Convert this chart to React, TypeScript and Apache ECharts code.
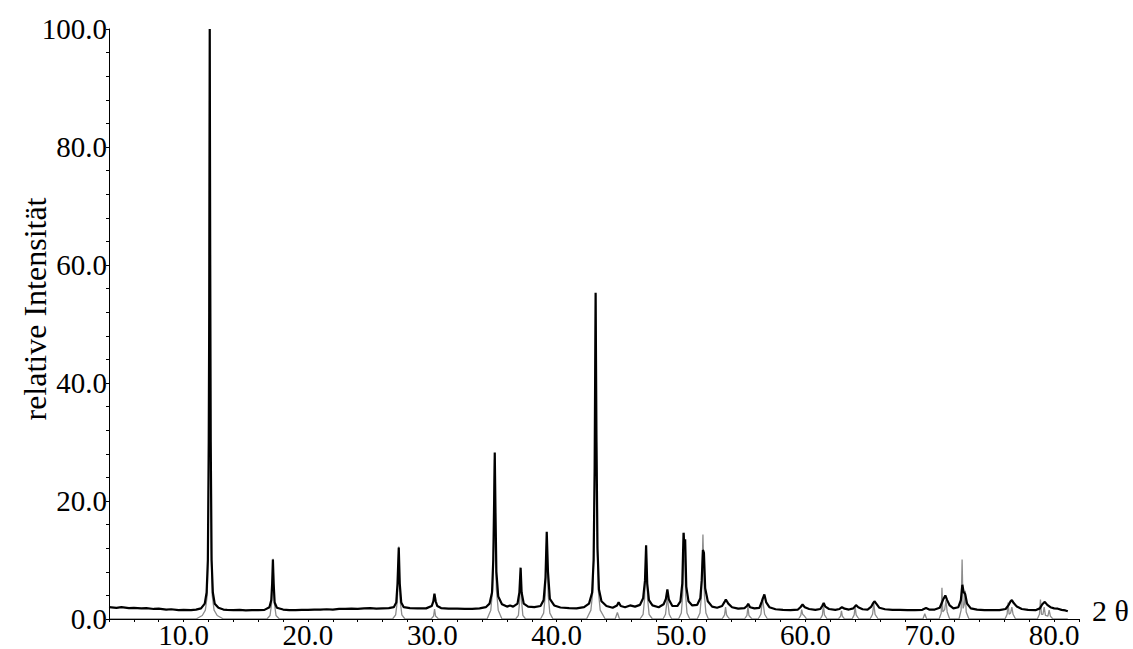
import { useEffect, useRef } from "react";
import * as echarts from "echarts";

// Axis ranges and tick spacing (2θ in degrees, intensity in %)
const X_MIN = 4;
const X_MAX = 82;
const X_STEP = 2;
const X_LABEL_EVERY = 10;
const Y_MIN = 0;
const Y_MAX = 100;
const Y_STEP = 4;
const Y_LABEL_EVERY = 20;

const xAxisTitle = "2 θ";
const yAxisTitle = "relative Intensität";

// Measured powder pattern: [2θ, relative intensity]
const measured: [number, number][] = [
  [4.0, 2.0], [4.6, 1.9], [5.0, 2.0], [5.6, 1.85], [6.0, 1.9], [6.6, 1.8], [7.0, 1.85],
  [7.6, 1.7], [8.0, 1.75], [8.6, 1.6], [9.0, 1.65], [9.6, 1.5], [10.0, 1.55], [10.6, 1.5],
  [11.0, 1.6], [11.4, 1.8], [11.7, 2.6], [11.85, 4.5], [11.95, 10], [12.02, 30], [12.06, 52],
  [12.1, 100], [12.14, 60], [12.18, 30], [12.25, 10], [12.35, 4.5], [12.5, 2.6], [12.8, 1.9],
  [13.2, 1.6], [13.5, 1.55], [14.0, 1.5], [14.5, 1.55], [15.0, 1.45], [15.5, 1.5], [16.0, 1.5],
  [16.5, 1.55], [16.9, 2.0], [17.05, 3.2], [17.12, 6], [17.18, 10.1], [17.24, 6], [17.32, 2.8],
  [17.5, 1.9], [18.0, 1.6], [18.5, 1.5], [19.0, 1.5], [19.5, 1.55], [20.0, 1.55], [20.5, 1.6],
  [21.0, 1.6], [21.5, 1.65], [22.0, 1.6], [22.5, 1.7], [23.0, 1.7], [23.5, 1.75], [24.0, 1.7],
  [24.5, 1.8], [25.0, 1.85], [25.5, 1.75], [26.0, 1.8], [26.5, 1.85], [26.9, 2.0], [27.1, 2.8],
  [27.2, 6], [27.3, 12.1], [27.38, 6], [27.5, 2.8], [27.7, 2.0], [28.2, 1.85], [28.8, 1.8],
  [29.5, 1.8], [29.95, 2.2], [30.08, 3.0], [30.17, 4.3], [30.27, 3.0], [30.4, 2.2], [30.7, 1.85],
  [31.3, 1.75], [32.0, 1.75], [32.6, 1.7], [33.2, 1.7], [33.8, 1.8], [34.3, 2.0], [34.6, 2.6],
  [34.8, 4.5], [34.9, 10], [34.97, 20], [35.02, 28.2], [35.08, 18], [35.15, 8], [35.3, 3.8],
  [35.6, 2.5], [36.0, 2.1], [36.25, 2.3], [36.5, 2.1], [36.85, 2.6], [37.0, 4.5], [37.1, 8.7],
  [37.18, 4.5], [37.35, 2.6], [37.7, 2.1], [38.2, 2.0], [38.7, 2.2], [38.95, 3.2], [39.1, 7],
  [39.2, 14.8], [39.3, 8], [39.45, 3.4], [39.8, 2.3], [40.3, 1.95], [41.0, 1.85], [41.6, 1.8],
  [42.2, 2.0], [42.6, 2.6], [42.85, 4.5], [42.97, 10], [43.05, 25], [43.13, 55.3], [43.2, 30],
  [43.28, 12], [43.4, 5], [43.6, 3.0], [44.0, 2.2], [44.5, 1.9], [44.85, 2.3], [44.98, 2.85],
  [45.15, 2.2], [45.5, 2.0], [45.9, 2.3], [46.3, 2.1], [46.7, 2.4], [46.95, 3.5], [47.1, 6.5],
  [47.19, 12.5], [47.28, 6], [47.42, 3.2], [47.7, 2.3], [48.2, 2.0], [48.6, 2.5], [48.78, 3.4],
  [48.9, 5.0], [49.02, 3.3], [49.3, 2.2], [49.7, 2.2], [49.95, 3.0], [50.1, 6], [50.2, 14.6],
  [50.27, 12.5], [50.33, 13.5], [50.42, 5.5], [50.6, 3.0], [50.9, 2.3], [51.3, 2.4], [51.55, 3.5],
  [51.66, 6.5], [51.76, 11.7], [51.84, 11.2], [51.94, 5.2], [52.15, 3.0], [52.5, 2.1], [52.9, 1.9],
  [53.3, 2.2], [53.5, 2.9], [53.6, 3.3], [53.8, 2.6], [54.1, 2.0], [54.6, 1.75], [55.1, 1.85],
  [55.3, 2.2], [55.4, 2.6], [55.55, 2.0], [55.9, 1.8], [56.3, 1.9], [56.5, 3.0], [56.58, 3.5],
  [56.7, 4.15], [56.85, 2.8], [57.1, 2.0], [57.6, 1.65], [58.2, 1.55], [58.8, 1.5], [59.4, 1.6],
  [59.6, 2.0], [59.77, 2.45], [59.95, 2.0], [60.3, 1.7], [60.8, 1.55], [61.2, 1.7], [61.35, 2.2],
  [61.47, 2.7], [61.6, 2.1], [61.9, 1.7], [62.4, 1.55], [62.75, 1.7], [62.94, 2.0], [63.15, 1.75],
  [63.5, 1.6], [63.85, 1.8], [64.07, 2.35], [64.25, 2.0], [64.6, 1.65], [65.0, 1.6], [65.3, 2.1],
  [65.45, 2.7], [65.55, 3.0], [65.7, 2.6], [65.95, 1.9], [66.4, 1.65], [67.0, 1.55], [67.6, 1.55],
  [68.2, 1.5], [68.8, 1.5], [69.4, 1.55], [69.7, 1.85], [69.95, 1.6], [70.4, 1.6], [70.8, 1.9],
  [70.98, 2.8], [71.1, 3.4], [71.25, 4.0], [71.4, 3.2], [71.6, 2.3], [71.9, 1.8], [72.3, 2.0],
  [72.5, 3.2], [72.62, 5.8], [72.72, 4.6], [72.85, 4.2], [73.0, 2.6], [73.3, 1.8], [73.8, 1.6],
  [74.4, 1.5], [75.0, 1.5], [75.6, 1.5], [76.1, 1.7], [76.35, 2.4], [76.5, 3.0], [76.6, 3.2],
  [76.75, 2.7], [77.0, 2.1], [77.4, 1.7], [77.9, 1.55], [78.5, 1.5], [78.85, 1.8], [79.05, 2.5],
  [79.25, 2.9], [79.45, 2.4], [79.7, 2.0], [80.0, 1.8], [80.3, 1.75], [80.6, 1.55], [80.9, 1.45],
  [81.1, 1.3],
];

// Calculated reference pattern: [2θ, relative intensity]
const calculated: [number, number][] = [
  [4.0, 0], [11.0, 0], [11.5, 0.6], [11.75, 1.5], [11.9, 4], [11.98, 12], [12.03, 30], [12.07, 60],
  [12.1, 100], [12.13, 60], [12.17, 30], [12.22, 12], [12.3, 4], [12.45, 1.5], [12.7, 0.6], [13.2, 0],
  [16.7, 0], [16.95, 0.6], [17.07, 2.5], [17.14, 6], [17.19, 10.2], [17.24, 6], [17.31, 2.5], [17.43, 0.6], [17.7, 0],
  [26.8, 0], [27.05, 0.7], [27.18, 3], [27.25, 7], [27.3, 12.3], [27.35, 7], [27.42, 3], [27.55, 0.7], [27.8, 0],
  [29.9, 0], [30.1, 0.5], [30.18, 1.7], [30.26, 0.5], [30.5, 0],
  [34.4, 0], [34.7, 1.5], [34.85, 5], [34.94, 14], [35.0, 27], [35.06, 14], [35.15, 5], [35.3, 1.5], [35.6, 0],
  [36.7, 0], [36.92, 0.6], [37.02, 3], [37.1, 8.3], [37.18, 3], [37.28, 0.6], [37.5, 0],
  [38.7, 0], [38.95, 1], [39.08, 4], [39.15, 9], [39.2, 14], [39.25, 9], [39.32, 4], [39.45, 1], [39.7, 0],
  [42.4, 0], [42.75, 1.5], [42.92, 5], [43.02, 16], [43.08, 35], [43.13, 55], [43.18, 35], [43.24, 16], [43.34, 5], [43.5, 1.5], [43.9, 0],
  [44.7, 0], [44.88, 1.1], [45.05, 0],
  [46.7, 0], [46.95, 0.8], [47.07, 3.5], [47.14, 8], [47.19, 12.3], [47.24, 8], [47.31, 3.5], [47.43, 0.8], [47.7, 0],
  [48.55, 0], [48.75, 0.8], [48.84, 2.5], [48.9, 4.6], [48.96, 2.5], [49.05, 0.8], [49.25, 0],
  [49.8, 0], [50.02, 1], [50.13, 4], [50.2, 10], [50.25, 14.6], [50.3, 10], [50.37, 4], [50.48, 1], [50.7, 0],
  [51.3, 0], [51.52, 1], [51.64, 4], [51.71, 10], [51.76, 14.3], [51.81, 10], [51.88, 4], [52.0, 1], [52.2, 0],
  [53.3, 0], [53.5, 0.7], [53.58, 2], [53.66, 0.7], [53.75, 0.4], [53.9, 0],
  [55.1, 0], [55.3, 0.6], [55.38, 2.1], [55.46, 0.6], [55.7, 0],
  [56.2, 0], [56.42, 0.8], [56.5, 2.4], [56.55, 3.6], [56.62, 2.4], [56.72, 0.8], [56.95, 0],
  [59.45, 0], [59.63, 0.6], [59.7, 1.6], [59.78, 0.8], [59.88, 0.6], [60.1, 0],
  [61.2, 0], [61.37, 0.7], [61.45, 2.5], [61.53, 0.7], [61.75, 0],
  [62.65, 0], [62.83, 0.5], [62.9, 1.4], [62.97, 0.5], [63.15, 0],
  [63.75, 0], [63.92, 0.7], [64.0, 2.1], [64.08, 0.7], [64.3, 0],
  [65.2, 0], [65.4, 0.8], [65.5, 2.6], [65.6, 0.8], [65.85, 0],
  [69.45, 0], [69.6, 0.9], [69.75, 0],
  [70.75, 0], [70.92, 1], [70.98, 5.3], [71.05, 1.2], [71.2, 1.6], [71.3, 3.2], [71.4, 1.2], [71.6, 0],
  [72.35, 0], [72.52, 1.5], [72.6, 10.1], [72.68, 1.8], [72.78, 2.5], [72.85, 4.8], [72.93, 1.2], [73.15, 0],
  [76.05, 0], [76.22, 0.8], [76.3, 2.8], [76.38, 0.8], [76.5, 1], [76.6, 2], [76.7, 0.8], [76.9, 0],
  [78.65, 0], [78.82, 0.8], [78.9, 3.3], [78.98, 0.8], [79.1, 0.8], [79.2, 2], [79.3, 0.6], [79.5, 0.5],
  [79.6, 1.5], [79.7, 0.5], [79.9, 0], [81.1, 0],
];

const SERIF = "'Liberation Serif', 'DejaVu Serif', serif";

export default function App() {
  const ref = useRef<HTMLDivElement>(null);

  useEffect(() => {
    if (!ref.current) return;
    const chart = echarts.init(ref.current, null, { renderer: "svg" });
    chart.setOption({
      animation: false,
      backgroundColor: "#ffffff",
      grid: { left: 109, right: 54, top: 29, bottom: 30 },
      xAxis: {
        type: "value",
        min: X_MIN,
        max: X_MAX,
        interval: X_STEP,
        z: 5,
        axisLine: { show: true, onZero: false, lineStyle: { color: "#000", width: 1 } },
        axisTick: { show: true, inside: false, length: 3, lineStyle: { color: "#000" } },
        splitLine: { show: false },
        axisLabel: {
          margin: 1,
          color: "#000",
          fontFamily: SERIF,
          fontSize: 29,
          showMinLabel: true,
          showMaxLabel: true,
          formatter: (v: number) =>
            Math.abs(v % X_LABEL_EVERY) < 1e-9 ? v.toFixed(1) : "",
        },
      },
      yAxis: {
        type: "value",
        min: Y_MIN,
        max: Y_MAX,
        interval: Y_STEP,
        z: 5,
        axisLine: { show: true, lineStyle: { color: "#000", width: 1 } },
        axisTick: { show: true, inside: false, length: 3, lineStyle: { color: "#000" } },
        splitLine: { show: false },
        axisLabel: {
          margin: 2,
          color: "#000",
          fontFamily: SERIF,
          fontSize: 29,
          formatter: (v: number) =>
            Math.abs(v % Y_LABEL_EVERY) < 1e-9 ? v.toFixed(1) : "",
        },
      },
      graphic: [
        {
          type: "text",
          x: 35,
          y: 309,
          rotation: Math.PI / 2,
          style: {
            text: yAxisTitle,
            fill: "#000",
            font: `32px ${SERIF}`,
            align: "center",
            verticalAlign: "middle",
          },
        },
        {
          type: "text",
          x: 1092,
          y: 610,
          style: {
            text: xAxisTitle,
            fill: "#000",
            font: `30px ${SERIF}`,
            align: "left",
            verticalAlign: "middle",
          },
        },
      ],
      series: [
        {
          name: "berechnet",
          type: "line",
          data: calculated,
          showSymbol: false,
          z: 2,
          lineStyle: { color: "#8c8c8c", width: 1.3 },
        },
        {
          name: "gemessen",
          type: "line",
          data: measured,
          showSymbol: false,
          z: 3,
          lineStyle: { color: "#000000", width: 2.2 },
        },
      ],
    });
    return () => chart.dispose();
  }, []);

  return (
    <div
      ref={ref}
      style={{ position: "fixed", left: 0, top: 0, width: 1133, height: 649, background: "#fff" }}
    />
  );
}
